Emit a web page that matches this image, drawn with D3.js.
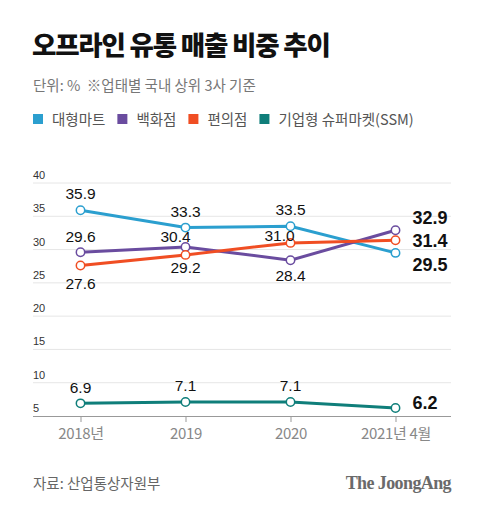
<!DOCTYPE html>
<html><head><meta charset="utf-8">
<script src="https://cdn.jsdelivr.net/npm/d3@7"></script>
<style>
html,body{margin:0;padding:0;background:#fff;}
text{font-family:"Noto Sans CJK KR","Noto Sans",sans-serif;}
</style></head>
<body><svg id="c" width="480" height="512"></svg>
<script>
const categories = ["2018년","2019","2020","2021년 4월"];
const seriesNames = ["대형마트","백화점","편의점","기업형 슈퍼마켓(SSM)"];
const martValues = [35.9,33.3,33.5,29.5];
const deptValues = [29.6,30.4,28.4,32.9];
const convValues = [27.6,29.2,31.0,31.4];
const ssmValues = [6.9,7.1,7.1,6.2];
const yTicks = [5,10,15,20,25,30,35,40];
const colors = ["#2b9fcf","#6a4c9f","#f04e23","#0f7e7a"];

// label placement per point: [dx, dy] relative to point (not data)
const labelOffsets = [
  [[0,-15],[0,-15],[0,-15],[17,13]],
  [[0,-14],[-10,-9],[0,17],[17,-11]],
  [[0,19],[0,14],[-11,-6],[17,2]],
  [[0,-14],[0,-15],[0,-15],[17,-4]]
];

const svg = d3.select("#c");
const x = d3.scalePoint().domain(categories).range([80.5,395.5]);
const y = d3.scaleLinear().domain([5,40]).range([416,183]);

svg.append("text").attr("x",32).attr("y",55).attr("font-size",26.5).attr("font-weight",900)
  .attr("letter-spacing",-1.2).attr("fill","#111").text("오프라인 유통 매출 비중 추이");
svg.append("text").attr("x",33).attr("y",91).attr("font-size",14.5).attr("fill","#777")
  .attr("letter-spacing",0).attr("xml:space","preserve").text("단위: %  ※업태별 국내 상위 3사 기준");

// legend
let lx = 33;
seriesNames.forEach((n,i)=>{
  svg.append("rect").attr("x",lx).attr("y",114).attr("width",10).attr("height",10).attr("fill",colors[i]);
  const t = svg.append("text").attr("x",lx+19).attr("y",124.5).attr("font-size",14.5).attr("fill","#555")
    .attr("letter-spacing",0).text(n);
  lx += 19 + t.node().getComputedTextLength() + 12;
});

// grid
const g = svg.append("g");
yTicks.forEach(v=>{
  if (v>5) g.append("line").attr("x1",33).attr("x2",451).attr("y1",y(v)).attr("y2",y(v))
    .attr("stroke","#e6e6e6").attr("stroke-width",1);
  g.append("text").attr("x",33).attr("y",y(v)-4).attr("font-size",11).attr("fill","#333")
    .style("font-family","'Liberation Sans', Arial, sans-serif").text(v);
});
// x axis
const xa = svg.append("g").attr("transform","translate(0,416)")
  .call(d3.axisBottom(x).tickSize(6).tickPadding(6));
xa.select(".domain").remove();
xa.selectAll(".tick line").attr("stroke","#999");
xa.selectAll(".tick text").attr("font-size",15).attr("fill","#888")
  .style("font-family","'Noto Sans CJK KR', sans-serif").attr("letter-spacing",-0.3);
svg.append("line").attr("x1",33).attr("x2",451).attr("y1",416.5).attr("y2",416.5).attr("stroke","#999");

const allSeries = [martValues,deptValues,convValues,ssmValues];
const line = d3.line().x((d,i)=>x(categories[i])).y(d=>y(d));
allSeries.forEach((vals,si)=>{
  svg.append("path").datum(vals).attr("d",line).attr("fill","none")
    .attr("stroke",colors[si]).attr("stroke-width",3);
});
allSeries.forEach((vals,si)=>{
  vals.forEach((v,i)=>{
    svg.append("circle").attr("cx",x(categories[i])).attr("cy",y(v)).attr("r",4.2)
      .attr("fill","#fff").attr("stroke",colors[si]).attr("stroke-width",1.5);
  });
});
allSeries.forEach((vals,si)=>{
  vals.forEach((v,i)=>{
    const last = i===vals.length-1;
    const [dx,dy] = labelOffsets[si][i];
    svg.append("text").attr("x",x(categories[i])+dx).attr("y",y(v)+dy)
      .attr("text-anchor", last ? "start" : "middle").attr("dominant-baseline","middle")
      .attr("font-size", last?18:15.5).attr("font-weight", last?700:400)
      .style("font-family","'Liberation Sans', Arial, sans-serif")
      .attr("fill","#111").text(v.toFixed(1));
  });
});

// footer
svg.append("text").attr("x",33).attr("y",489).attr("font-size",14.5).attr("fill","#666")
  .text("자료: 산업통상자원부");
svg.append("text").attr("x",451).attr("y",489).attr("text-anchor","end").attr("font-size",18)
  .attr("font-weight",700).attr("letter-spacing",-0.6).attr("fill","#6a6a6a")
  .style("font-family","'Liberation Serif', 'DejaVu Serif', serif").text("The JoongAng");
</script></body></html>
